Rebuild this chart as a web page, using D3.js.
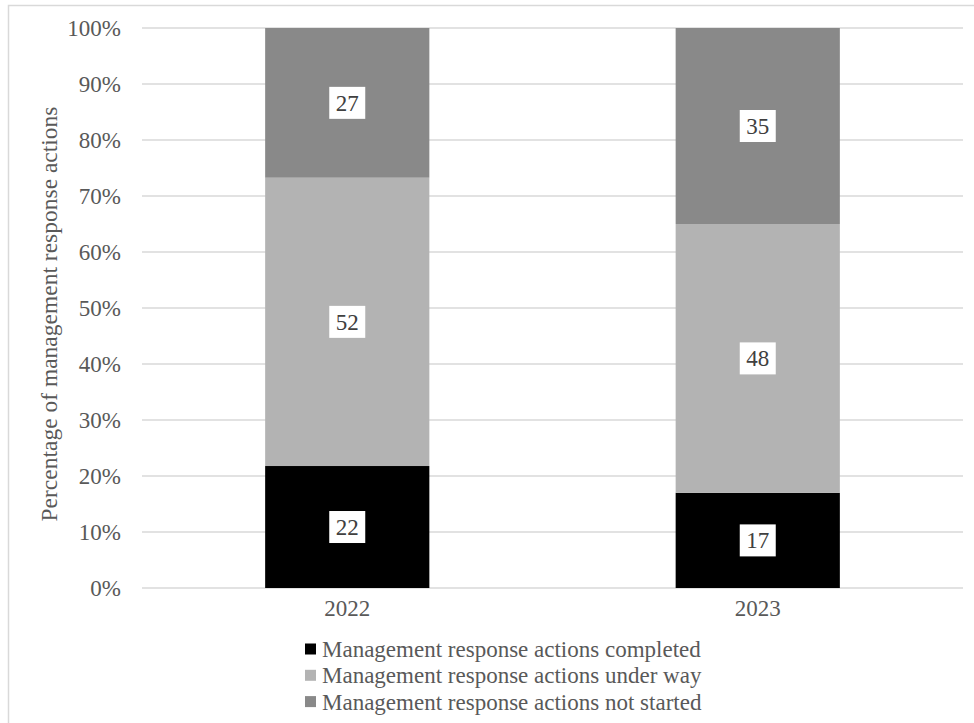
<!DOCTYPE html>
<html>
<head>
<meta charset="utf-8">
<script src="https://cdn.jsdelivr.net/npm/d3@7"></script>
<style>
  html, body { margin: 0; padding: 0; background: #fff; }
  svg text { font-family: "Liberation Serif", "DejaVu Serif", serif; }
</style>
</head>
<body>
<svg id="chart" width="974" height="723"></svg>
<script>
const categories = ["2022", "2023"];
const seriesNames = [
  "Management response actions completed",
  "Management response actions under way",
  "Management response actions not started"
];
const completed = [22, 17];
const underWay = [52, 48];
const notStarted = [27, 35];
const seriesColors = ["#000000", "#b3b3b3", "#898989"];
const yTicks = [0, 0.1, 0.2, 0.3, 0.4, 0.5, 0.6, 0.7, 0.8, 0.9, 1.0];
const yTitle = "Percentage of management response actions";

const FONT = "Liberation Serif, DejaVu Serif, serif";
const svg = d3.select("#chart");
const W = 974, H = 723;
const margin = { left: 142, right: 11, top: 28, bottom: 135 };
const plotW = W - margin.left - margin.right;
const plotH = H - margin.top - margin.bottom;

// outer frame
svg.append("rect").attr("x", 8.5).attr("y", 5.5).attr("width", 980).attr("height", 730)
  .attr("fill", "#fff").attr("stroke", "#d9d9d9").attr("stroke-width", 1.5);

const g = svg.append("g").attr("transform", `translate(${margin.left},${margin.top})`);

const rows = categories.map((c, i) => ({
  cat: c,
  values: [completed[i], underWay[i], notStarted[i]]
}));
rows.forEach(r => { r.total = d3.sum(r.values); });

const x = d3.scaleBand().domain(categories).range([0, plotW]).paddingInner(0.6).paddingOuter(0.3);
const y = d3.scaleLinear().domain([0, 1]).range([plotH, 0]);

// gridlines
g.append("g").selectAll("line").data(yTicks).join("line")
  .attr("x1", 0).attr("x2", plotW)
  .attr("y1", d => y(d)).attr("y2", d => y(d))
  .attr("stroke", "#d9d9d9").attr("stroke-width", 1.5);

// y axis labels
const yAxis = d3.axisLeft(y).tickValues(yTicks).tickFormat(d3.format(".0%")).tickSize(0).tickPadding(21);
const ya = g.append("g").call(yAxis);
ya.select(".domain").remove();
ya.attr("font-family", FONT);
ya.selectAll("text").attr("font-size", 23).attr("fill", "#595959").style("font-family", FONT);

// stacked segments
const segs = [];
rows.forEach(r => {
  let acc = 0;
  r.values.forEach((v, k) => {
    const y0 = acc / r.total;
    acc += v;
    const y1 = acc / r.total;
    segs.push({ cat: r.cat, k, v, y0, y1 });
  });
});

g.append("g").selectAll("rect").data(segs).join("rect")
  .attr("x", d => x(d.cat))
  .attr("width", x.bandwidth())
  .attr("y", d => y(d.y1))
  .attr("height", d => y(d.y0) - y(d.y1))
  .attr("fill", d => seriesColors[d.k]);

// data labels
const lbl = g.append("g").selectAll("g").data(segs).join("g")
  .attr("transform", d => `translate(${x(d.cat) + x.bandwidth() / 2},${y((d.y0 + d.y1) / 2)})`);
lbl.append("rect").attr("x", -18).attr("y", -16).attr("width", 36).attr("height", 32).attr("fill", "#fff");
lbl.append("text").attr("text-anchor", "middle").attr("dy", "0.35em")
  .style("font-family", FONT)
  .attr("font-size", 23).attr("fill", "#404040").text(d => d.v);

// x axis labels
const xAxis = d3.axisBottom(x).tickSize(0).tickPadding(12);
const xa = g.append("g").attr("transform", `translate(0,${plotH})`).call(xAxis);
xa.select(".domain").remove();
xa.attr("font-family", FONT);
xa.selectAll("text").attr("font-size", 23).attr("fill", "#595959").style("font-family", FONT);

// y title
svg.append("text")
  .attr("transform", `translate(57,${margin.top + plotH / 2 + 6}) rotate(-90)`)
  .attr("text-anchor", "middle").attr("font-size", 23.5).attr("fill", "#595959")
  .style("font-family", FONT)
  .text(yTitle);

// legend
const leg = svg.append("g").attr("transform", "translate(305,649)");
const li = leg.selectAll("g").data(seriesNames).join("g")
  .attr("transform", (d, i) => `translate(0,${i * 26.3})`);
li.append("rect").attr("x", 0).attr("y", -5.5).attr("width", 11).attr("height", 11)
  .attr("fill", (d, i) => seriesColors[i]);
li.append("text").attr("x", 17).attr("dy", "0.35em").attr("font-size", 23).attr("fill", "#595959")
  .style("font-family", FONT)
  .text(d => d);
</script>
</body>
</html>
